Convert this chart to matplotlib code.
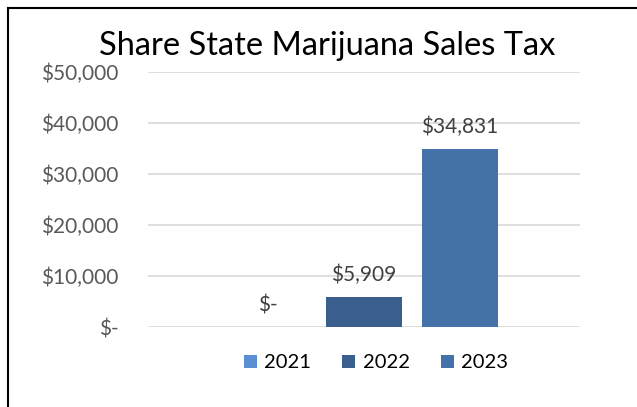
import matplotlib
matplotlib.use("Agg")
import matplotlib.pyplot as plt
from matplotlib.patches import Patch
from matplotlib.lines import Line2D

title = "Share State Marijuana Sales Tax"
years = ["2021", "2022", "2023"]
values = [0, 5909, 34831]
value_labels = ["$-", "$5,909", "$34,831"]
yticks = [0, 10000, 20000, 30000, 40000, 50000]
ytick_labels = ["$-", "$10,000", "$20,000", "$30,000", "$40,000", "$50,000"]
colors = ["#5B8FD4", "#3A5F8E", "#4472A8"]

W, H = 637, 407
fig = plt.figure(figsize=(W / 100, H / 100), dpi=100)
plt.rcParams['font.family'] = ['Lato', 'DejaVu Sans']

# axes placement in pixels
left, right, top, bottom = 148, 580, 72, 327
ax = fig.add_axes([left / W, 1 - bottom / H, (right - left) / W, (bottom - top) / H])

xpos = list(range(len(years)))
bw = 76 / 96
ax.bar(xpos, values, width=bw, color=colors, zorder=3)
ax.set_xlim(1 - 2.25, 1 + 2.25)
ax.set_ylim(0, 50000)
ax.set_yticks(yticks)
ax.set_yticklabels(ytick_labels, fontsize=15, color="#595959")
ax.tick_params(axis="y", length=0, pad=21)
ax.set_xticks([])
for s in ax.spines.values():
    s.set_visible(False)
ax.yaxis.grid(True, color="#D9D9D9", linewidth=1.2, zorder=0)

for x, v, lab in zip(xpos, values, value_labels):
    ax.annotate(lab, (x, v), xytext=(0, 11.5), textcoords="offset points",
                ha="center", va="baseline", fontsize=15, color="#404040")

fig.text(327 / W, 1 - 46 / H, title, ha="center", va="center", fontsize=23.5, color="black")

handles = [Patch(facecolor=c, edgecolor="none") for c in colors]
fig.legend(handles, years, loc="center", bbox_to_anchor=(376 / W, 1 - 363 / H), ncol=3,
           frameon=False, fontsize=14.5, handlelength=0.65, handleheight=0.65,
           handletextpad=0.35, columnspacing=1.55, labelcolor="black")

# chart border (left and top visible)
fig.add_artist(Line2D([7.5 / W, 7.5 / W], [0, 1 - 7.5 / H], color="black", lw=1.5,
                      transform=fig.transFigure))
fig.add_artist(Line2D([7.5 / W, 1], [1 - 7.5 / H, 1 - 7.5 / H], color="black", lw=1.5,
                      transform=fig.transFigure))

fig.savefig("out.png", dpi=100, facecolor="white")
